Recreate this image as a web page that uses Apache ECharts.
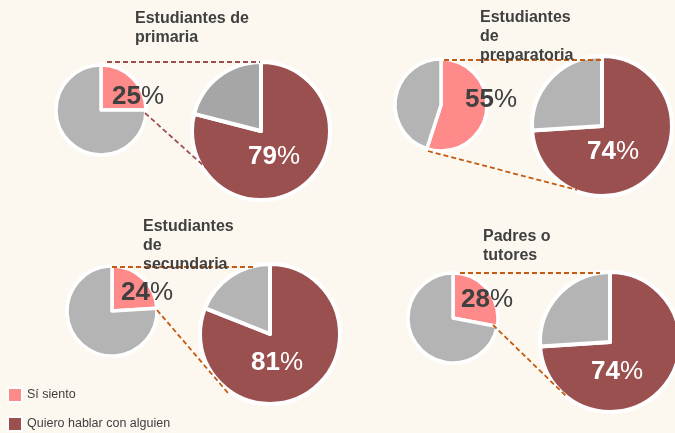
<!DOCTYPE html>
<html>
<head>
<meta charset="utf-8">
<script src="https://cdn.jsdelivr.net/npm/echarts@6/dist/echarts.min.js"></script>
<style>
html,body{margin:0;padding:0;background:#fcf8f0;}
#main{width:675px;height:433px;}
</style>
</head>
<body>
<div id="main"></div>
<script>
// datos de cada grupo
var groups = ["Estudiantes de\nprimaria", "Estudiantes\nde\npreparatoria", "Estudiantes\nde\nsecundaria", "Padres o\ntutores"];
var siSiento = [25, 55, 24, 28];
var quieroHablar = [79, 74, 81, 74];
var legendNames = ["Sí siento", "Quiero hablar con alguien"];

// layout (pixeles)
var smallPie = [[101, 110, 45], [441, 105, 46], [112, 311, 45], [453, 318, 45]];
var bigPie = [[261, 131, 69], [602, 126, 70], [270, 334, 70], [610, 342, 70]];
var titlePos = [[135, 9], [480, 8], [143, 217], [483, 227]];
var smallLabelPos = [[138, 97], [491, 100], [147, 293], [487, 300]];
var bigLabelPos = [[274, 157], [613, 152], [277, 363], [617, 372]];
var topLines = [[107, 62, 260, 62], [444, 60, 603, 60], [112, 267, 254, 267], [460, 273, 600, 273]];
var sideLines = [[145, 113, 205, 167], [428, 151, 577, 190], [157, 310, 228, 393], [493, 325, 567, 397]];
var lineColors = ["#9b4f4f", "#c55a11", "#c55a11", "#c55a11"];
var legendTops = [387, 416];

var pink = "#ff8a8a", maroon = "#9b5050", gray = "#b4b4b4", grayDark = "#a6a6a6";

var series = [], graphic = [];
for (var i = 0; i < groups.length; i++) {
    series.push({
        type: 'pie',
        center: [smallPie[i][0], smallPie[i][1]],
        radius: smallPie[i][2],
        startAngle: 90,
        silent: true,
        label: {show: false},
        labelLine: {show: false},
        itemStyle: {borderColor: '#fff', borderWidth: 3.5},
        data: [
            {name: legendNames[0], value: siSiento[i], itemStyle: {color: pink}},
            {name: 'resto', value: 100 - siSiento[i], itemStyle: {color: gray}}
        ]
    });
    series.push({
        type: 'pie',
        center: [bigPie[i][0], bigPie[i][1]],
        radius: bigPie[i][2],
        startAngle: 90,
        silent: true,
        label: {show: false},
        labelLine: {show: false},
        itemStyle: {borderColor: '#fff', borderWidth: 4},
        data: [
            {name: legendNames[1], value: quieroHablar[i], itemStyle: {color: maroon}},
            {name: 'resto2', value: 100 - quieroHablar[i], itemStyle: {color: i == 0 ? grayDark : gray}}
        ]
    });
    // lineas punteadas
    [topLines[i], sideLines[i]].forEach(function (l) {
        graphic.push({
            type: 'line', z: 10,
            shape: {x1: l[0], y1: l[1], x2: l[2], y2: l[3]},
            style: {stroke: lineColors[i], lineWidth: 1.8, lineDash: [5, 3]}
        });
    });
    graphic.push({
        type: 'text', z: 20,
        left: titlePos[i][0], top: titlePos[i][1],
        style: {text: groups[i], fill: '#404040', font: 'bold 16px "Liberation Sans", Arial, sans-serif', lineHeight: 19}
    });
    graphic.push({
        type: 'text', z: 20,
        x: smallLabelPos[i][0], y: smallLabelPos[i][1],
        style: {
            text: '{n|' + siSiento[i] + '}{p|%}',
            align: 'center', verticalAlign: 'middle',
            rich: {
                n: {fill: '#404040', font: 'bold 26px "Liberation Sans", Arial, sans-serif'},
                p: {fill: '#404040', font: '26px "Liberation Sans", Arial, sans-serif'}
            }
        }
    });
    graphic.push({
        type: 'text', z: 20,
        x: bigLabelPos[i][0], y: bigLabelPos[i][1],
        style: {
            text: '{n|' + quieroHablar[i] + '}{p|%}',
            align: 'center', verticalAlign: 'middle',
            rich: {
                n: {fill: '#fff', font: 'bold 26px "Liberation Sans", Arial, sans-serif'},
                p: {fill: '#fff', font: '26px "Liberation Sans", Arial, sans-serif'}
            }
        }
    });
}

// una leyenda por fila
var legends = legendNames.map(function (name, k) {
    return {
        data: [name],
        left: 7, top: legendTops[k],
        padding: 0,
        itemWidth: 14, itemHeight: 14,
        icon: 'rect',
        selectedMode: false,
        textStyle: {color: '#404040', fontSize: 12.5, fontFamily: '"Liberation Sans", Arial, sans-serif', padding: [5, 0, 0, 0]}
    };
});

var chart = echarts.init(document.getElementById('main'));
chart.setOption({
    backgroundColor: '#fcf8f0',
    animation: false,
    legend: legends,
    series: series,
    graphic: graphic
});
</script>
</body>
</html>
